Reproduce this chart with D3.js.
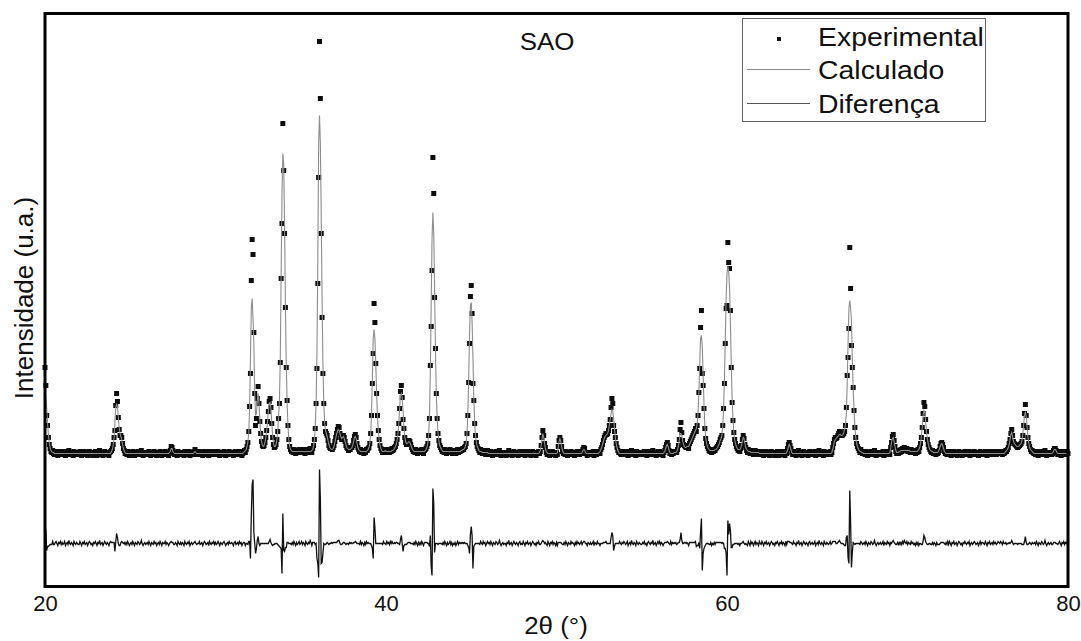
<!DOCTYPE html>
<html>
<head>
<meta charset="utf-8">
<script src="https://cdn.jsdelivr.net/npm/d3@7"></script>
<style>
  body { margin: 0; background: #fff; }
  svg { display: block; font-family: Arial, "Liberation Sans", sans-serif; }
</style>
</head>
<body>
<svg id="chart" width="1081" height="641"></svg>
<script>
// ---------------- data ----------------
const xTicks = [20, 40, 60, 80];
const angleStart = 20;      // first 2θ sample (°)
const angleStep = 0.05;     // sampling step (°)
const seriesNames = ["Experimental", "Calculado", "Diferença"];
const chartTitle = "SAO";

// experimental intensity (u.a.), one row per degree (20.00 .. 20.95, 21.00 ..)
const experimental = [
  176,158,128,118,106,99,95,92,91,93,90,89,91,92,90,88,91,90,92,89,          // 20
  91,89,90,92,88,90,91,89,93,90,89,91,90,88,92,90,89,91,90,89,               // 21
  89,92,90,88,91,90,92,89,90,91,88,90,92,91,89,90,88,91,90,92,               // 22
  90,88,91,90,93,89,90,91,88,90,92,90,89,91,90,88,91,92,93,95,               // 23
  99,106,113,138,150,142,126,114,108,108,106,100,95,93,90,91,89,92,90,88,    // 24
  90,91,89,92,90,88,91,90,89,92,91,89,90,93,90,88,90,91,89,90,               // 25
  91,89,92,90,88,91,90,89,92,90,91,88,90,91,89,92,90,88,91,90,               // 26
  90,92,89,91,90,88,91,93,97,96,93,90,89,91,90,88,92,90,89,91,               // 27
  89,91,90,88,92,90,89,91,90,92,88,90,91,89,90,92,94,91,89,90,               // 28
  90,92,89,90,91,88,90,92,91,89,90,91,88,92,90,89,91,90,92,89,               // 29
  91,89,90,92,90,88,91,90,89,91,92,90,88,90,91,89,92,90,90,91,               // 30
  90,88,91,92,89,90,91,89,92,90,91,88,90,92,93,91,94,97,101,112,             // 31
  137,170,263,304,289,211,150,118,125,145,157,140,122,110,102,98,97,98,101,106, // 32
  113,122,132,142,145,136,120,106,99,96,97,99,104,112,125,140,181,265,320,420,  // 33
  373,310,236,176,143,118,104,97,94,92,93,91,94,92,90,93,91,92,94,91,        // 34
  92,94,91,93,92,90,94,92,91,93,92,95,93,91,95,98,104,115,140,175,           // 35
  260,366,502,445,310,226,170,140,120,112,110,108,103,98,96,95,95,94,96,98,  // 36
  102,106,110,114,117,116,110,106,104,106,108,106,102,98,96,95,93,95,94,96,  // 37
  96,98,103,107,109,106,100,96,94,92,94,91,93,92,90,93,91,94,93,95,          // 38
  96,100,110,128,160,190,240,221,180,150,128,113,104,98,95,93,91,94,92,93,   // 39
  91,94,92,93,91,94,92,95,93,94,96,97,100,104,110,120,135,152,158,146,       // 40
  124,115,106,101,99,100,102,103,102,99,96,94,92,93,91,94,92,90,93,91,       // 41
  93,91,94,92,90,93,94,95,97,100,108,125,178,217,273,386,350,246,195,150,    // 42
  125,110,103,98,96,94,92,93,91,94,92,90,93,91,92,94,91,93,90,92,            // 43
  91,93,90,92,94,91,93,92,94,93,95,94,96,97,100,110,128,161,200,247,         // 44
  258,230,160,143,120,108,101,97,95,93,91,94,92,90,93,91,92,89,91,93,        // 45
  90,91,89,92,90,88,91,90,89,92,91,89,90,93,90,88,90,91,89,90,               // 46
  90,88,91,90,93,89,90,91,88,90,92,90,89,91,90,88,91,92,89,90,               // 47
  89,92,90,88,91,90,92,89,90,91,88,90,92,91,89,90,88,91,90,92,               // 48
  90,92,98,106,113,108,100,96,91,89,92,90,88,91,90,92,89,91,90,88,           // 49
  91,89,97,103,106,103,97,92,90,91,89,92,90,88,91,90,89,92,90,91,            // 50
  90,88,91,89,92,90,91,89,90,92,90,94,96,95,91,90,88,91,90,89,               // 51
  91,89,90,92,88,91,90,89,92,90,91,90,94,96,99,103,106,108,110,109,          // 52
  110,113,118,124,136,145,140,118,112,106,100,96,93,91,92,90,89,91,90,92,    // 53
  91,89,90,92,88,90,91,89,93,90,89,91,90,88,92,90,89,91,90,89,               // 54
  89,91,90,92,89,90,88,91,92,90,89,91,90,93,89,90,91,88,90,92,               // 55
  90,92,89,91,90,88,91,93,96,99,101,98,93,90,92,89,91,90,92,91,              // 56
  92,91,94,98,104,114,121,111,103,99,98,97,96,98,97,95,100,102,104,106,      // 57
  108,110,112,115,112,118,128,151,175,216,233,170,158,135,115,105,100,97,95,93, // 58
  92,94,91,93,92,94,93,95,96,97,99,101,104,106,108,118,135,160,200,235,      // 59
  238,301,281,275,233,176,141,123,111,104,100,97,95,93,94,92,95,98,104,108,  // 60
  105,99,96,93,91,94,92,90,93,91,92,89,91,93,90,92,91,89,92,90,              // 61
  89,92,90,88,91,90,92,89,90,91,88,90,92,91,89,90,88,91,90,92,               // 62
  90,88,91,90,92,89,91,90,88,92,90,95,99,101,98,95,91,89,92,90,              // 63
  90,88,91,90,93,89,90,91,88,90,92,90,89,91,90,88,91,92,89,90,               // 64
  91,89,90,92,88,90,91,89,93,90,89,91,90,88,92,90,89,91,90,89,               // 65
  90,92,89,91,96,100,104,106,105,106,108,110,112,110,108,108,109,110,112,118, // 66
  136,168,186,215,296,255,198,176,156,133,116,106,100,97,95,93,91,94,92,90,  // 67
  90,91,89,92,90,88,91,90,89,92,91,89,90,93,90,88,90,91,89,90,               // 68
  91,89,90,92,88,91,90,89,92,90,91,89,96,101,107,109,103,97,92,90,           // 69
  92,90,93,91,94,92,95,93,96,94,93,95,92,94,93,91,94,92,93,91,               // 70
  92,90,93,91,94,92,96,100,106,116,130,141,137,124,112,104,99,96,94,92,      // 71
  91,93,90,92,91,89,92,90,91,93,97,100,101,99,96,92,90,91,89,92,             // 72
  89,92,90,88,91,90,92,89,90,91,88,90,92,91,89,90,88,91,90,92,               // 73
  90,89,91,90,92,88,90,91,89,90,92,91,89,90,91,88,90,92,89,91,               // 74
  91,90,89,92,90,88,91,90,92,89,90,91,89,92,90,91,89,90,92,91,               // 75
  90,92,91,89,92,90,91,93,92,94,96,100,104,110,114,108,102,100,99,98,        // 76
  97,96,97,98,99,100,102,108,118,130,139,128,116,106,100,97,94,92,93,91,     // 77
  90,91,89,92,90,88,91,90,89,92,91,89,90,93,90,88,90,91,89,90,               // 78
  91,89,90,93,95,95,93,91,89,90,92,90,88,91,90,92,89,91,90,92,               // 79
  90                                                                         // 80
];

// calculated (refined) profile, same sampling
const calculated = [
  157,145,135,121,109,101,96,93,92,91,91,90,90,90,90,90,90,90,90,90,         // 20
  90,90,90,90,90,90,90,90,90,90,90,90,90,90,90,90,90,90,90,90,               // 21
  90,90,90,90,90,90,90,90,90,90,90,90,90,90,90,90,90,90,90,90,               // 22
  90,90,90,90,90,90,90,90,90,90,90,90,90,90,90,90,90,90,92,94,               // 23
  98,105,121,136,140,136,126,116,110,107,104,99,95,92,91,90,90,90,90,90,     // 24
  90,90,90,90,90,90,90,90,90,90,90,90,90,90,90,90,90,90,90,90,               // 25
  90,90,90,90,90,90,90,90,90,90,90,90,90,90,90,90,90,90,90,90,               // 26
  90,90,90,90,90,90,91,92,95,95,92,91,90,90,90,90,90,90,90,90,               // 27
  90,90,90,90,90,90,90,90,90,90,90,90,90,90,90,91,92,91,90,90,               // 28
  90,90,90,90,90,90,90,90,90,90,90,90,90,90,90,90,90,90,90,90,               // 29
  90,90,90,90,90,90,90,90,90,90,90,90,90,90,90,90,90,90,90,90,               // 30
  90,90,90,90,90,90,90,90,90,90,90,90,90,91,92,93,94,97,102,110,             // 31
  135,185,235,245,225,200,150,128,130,142,150,140,124,110,102,98,97,98,101,106, // 32
  113,122,132,140,141,135,121,108,100,97,97,99,104,113,127,143,185,270,350,390, // 33
  380,318,240,180,142,117,104,97,94,93,92,92,92,92,92,92,92,92,92,92,        // 34
  92,92,92,92,92,92,92,92,92,92,92,92,92,93,94,97,103,116,140,190,           // 35
  280,400,428,400,330,245,180,140,121,113,110,107,103,99,96,95,94,94,95,97,  // 36
  101,105,109,112,114,113,110,107,105,106,107,105,102,99,96,95,94,94,94,95,  // 37
  96,98,102,106,107,105,100,96,94,93,92,92,92,92,92,92,92,92,93,94,          // 38
  96,100,110,130,165,205,214,205,180,150,128,113,104,98,95,93,92,92,92,93,   // 39
  92,92,92,92,92,92,92,93,93,94,95,97,99,103,110,120,136,148,150,146,        // 40
  132,117,107,102,100,100,101,102,101,99,96,94,93,92,92,92,92,92,92,92,      // 41
  92,92,92,92,92,92,93,94,96,100,108,128,170,240,305,331,310,255,195,150,    // 42
  125,111,103,98,96,94,93,92,92,92,92,92,92,92,92,92,92,92,92,92,            // 43
  92,92,92,92,92,92,92,92,93,93,94,94,95,97,100,110,130,165,210,238,         // 44
  241,222,185,146,121,108,101,97,95,93,92,92,92,91,91,91,91,91,91,91,        // 45
  90,90,90,90,90,90,90,90,90,90,90,90,90,90,90,90,90,90,90,90,               // 46
  90,90,90,90,90,90,90,90,90,90,90,90,90,90,90,90,90,90,90,90,               // 47
  90,90,90,90,90,90,90,90,90,90,90,90,90,90,90,90,90,90,90,90,               // 48
  91,93,98,104,110,106,100,95,92,91,90,90,90,90,90,90,90,90,90,90,           // 49
  90,91,96,102,105,102,97,93,91,90,90,90,90,90,90,90,90,90,90,90,            // 50
  90,90,90,90,90,90,90,90,90,90,91,93,94,93,91,90,90,90,90,90,               // 51
  90,90,90,90,90,90,90,90,90,90,91,92,94,96,99,102,105,107,108,109,          // 52
  110,113,118,124,130,134,132,125,115,106,100,96,93,91,90,90,90,90,90,90,    // 53
  90,90,90,90,90,90,90,90,90,90,90,90,90,90,90,90,90,90,90,90,               // 54
  90,90,90,90,90,90,90,90,90,90,90,90,90,90,90,90,90,90,90,90,               // 55
  90,90,90,90,90,90,91,92,95,98,99,97,93,91,90,90,90,90,91,91,               // 56
  91,92,94,97,103,110,110,108,103,99,97,96,96,97,97,97,99,101,103,105,       // 57
  107,109,111,113,115,120,130,150,180,205,208,197,168,140,118,106,100,97,95,94, // 58
  93,93,93,93,93,93,94,94,95,96,98,100,103,105,108,117,135,165,205,245,      // 59
  270,278,272,255,220,180,145,124,112,104,100,97,95,94,94,94,95,98,103,106,  // 60
  105,100,96,94,93,92,92,92,91,91,91,91,91,91,91,91,91,91,90,90,             // 61
  90,90,90,90,90,90,90,90,90,90,90,90,90,90,90,90,90,90,90,90,               // 62
  90,90,90,90,90,90,90,90,90,90,91,93,97,99,97,94,91,90,90,90,               // 63
  90,90,90,90,90,90,90,90,90,90,90,90,90,90,90,90,90,90,90,90,               // 64
  90,90,90,90,90,90,90,90,90,90,90,90,90,90,90,90,90,90,90,90,               // 65
  90,90,90,91,94,98,102,104,105,106,107,108,109,109,108,108,109,111,114,120, // 66
  130,160,200,235,243,235,222,185,155,133,117,106,100,97,95,93,92,92,91,91,  // 67
  90,90,90,90,90,90,90,90,90,90,90,90,90,90,90,90,90,90,90,90,               // 68
  90,90,90,90,90,90,90,90,90,90,90,91,95,101,105,106,102,97,93,91,           // 69
  91,91,92,92,93,93,93,93,93,93,93,93,93,93,93,92,92,92,92,92,               // 70
  92,92,92,92,93,94,96,100,107,117,128,133,131,122,112,105,100,96,94,93,     // 71
  92,92,91,91,91,91,91,91,92,94,97,99,100,98,95,92,91,90,90,90,              // 72
  90,90,90,90,90,90,90,90,90,90,90,90,90,90,90,90,90,90,90,90,               // 73
  90,90,90,90,90,90,90,90,90,90,90,90,90,90,90,90,90,90,90,90,               // 74
  90,90,90,90,90,90,90,90,90,90,90,90,90,90,90,90,90,90,90,90,               // 75
  90,90,90,90,90,90,91,92,93,94,96,99,104,109,111,107,103,100,99,98,         // 76
  97,97,97,98,99,100,103,109,119,128,132,127,117,107,100,96,94,93,92,91,     // 77
  90,90,90,90,90,90,90,90,90,90,90,90,90,90,90,90,90,90,90,90,               // 78
  90,90,91,92,94,94,93,91,90,90,90,90,90,90,90,90,90,90,90,90,               // 79
  90                                                                         // 80
];

// ---------------- build table ----------------
const n = Math.min(experimental.length, calculated.length);
const rows = d3.range(n).map(i => ({
  angle: +(angleStart + i * angleStep).toFixed(2),
  obs: experimental[i],
  calc: calculated[i],
  diff: experimental[i] - calculated[i]
}));

// ---------------- layout ----------------
const svg = d3.select("#chart");
const plot = { left: 45, right: 1068, top: 13.5, bottom: 586.5 };

const x = d3.scaleLinear().domain([20, 80]).range([plot.left, plot.right]);
const y = d3.scaleLinear().domain([-43, 530]).range([plot.bottom, plot.top]);

const M = 5; // marker size

// experimental points
svg.append("g")
  .selectAll("rect")
  .data(rows)
  .join("rect")
  .attr("x", d => x(d.angle) - M / 2)
  .attr("y", d => y(d.obs) - M / 2)
  .attr("width", M)
  .attr("height", M)
  .attr("fill", "#0d0d0d");

// calculated line
svg.append("path")
  .datum(rows)
  .attr("fill", "none")
  .attr("stroke", "#8c8c8c")
  .attr("stroke-width", 1.1)
  .attr("d", d3.line().x(d => x(d.angle)).y(d => y(d.calc)));

// difference line
svg.append("path")
  .datum(rows)
  .attr("fill", "none")
  .attr("stroke", "#111")
  .attr("stroke-width", 1.3)
  .attr("d", d3.line().x(d => x(d.angle)).y(d => y(d.diff)));

// frame
svg.append("rect")
  .attr("x", plot.left)
  .attr("y", plot.top)
  .attr("width", plot.right - plot.left)
  .attr("height", plot.bottom - plot.top)
  .attr("fill", "none")
  .attr("stroke", "#000")
  .attr("stroke-width", 3);

// x axis labels
const xAxis = svg.append("g")
  .attr("transform", `translate(0,${plot.bottom})`)
  .call(d3.axisBottom(x).tickValues(xTicks).tickSize(0).tickPadding(9).tickFormat(d3.format("d")));
xAxis.select(".domain").remove();
xAxis.selectAll("text")
  .attr("font-size", 22)
  .attr("font-family", "Arial, 'Liberation Sans', sans-serif")
  .attr("fill", "#111");

// axis titles
svg.append("text")
  .attr("transform", "translate(556,634) scale(1.08,1)")
  .attr("text-anchor", "middle")
  .attr("font-size", 24)
  .attr("fill", "#111")
  .text("2θ (°)");

svg.append("text")
  .attr("transform", "translate(33,298) rotate(-90)")
  .attr("text-anchor", "middle")
  .attr("font-size", 26)
  .attr("fill", "#111")
  .text("Intensidade (u.a.)");

// title inside the plot
svg.append("text")
  .attr("transform", "translate(547,50) scale(1.08,1)")
  .attr("text-anchor", "middle")
  .attr("font-size", 24)
  .attr("fill", "#111")
  .text(chartTitle);

// legend
const lg = svg.append("g");
lg.append("rect")
  .attr("x", 742.5).attr("y", 18.5)
  .attr("width", 243).attr("height", 103)
  .attr("fill", "#fff")
  .attr("stroke", "#666")
  .attr("stroke-width", 1);

const legendRows = [
  { name: seriesNames[0], type: "dot",  base: 46 },
  { name: seriesNames[1], type: "line", base: 79, color: "#8c8c8c" },
  { name: seriesNames[2], type: "line", base: 113, color: "#555" }
];
legendRows.forEach(r => {
  if (r.type === "dot") {
    lg.append("rect")
      .attr("x", 777).attr("y", 37)
      .attr("width", 4).attr("height", 4)
      .attr("fill", "#111");
  } else {
    lg.append("line")
      .attr("x1", 747).attr("x2", 810)
      .attr("y1", r.base - 9.5).attr("y2", r.base - 9.5)
      .attr("stroke", r.color)
      .attr("stroke-width", 1);
  }
  lg.append("text")
    .attr("transform", `translate(818,${r.base}) scale(1.115,1)`)
    .attr("font-size", 25.5)
    .attr("fill", "#111")
    .text(r.name);
});
</script>
</body>
</html>
